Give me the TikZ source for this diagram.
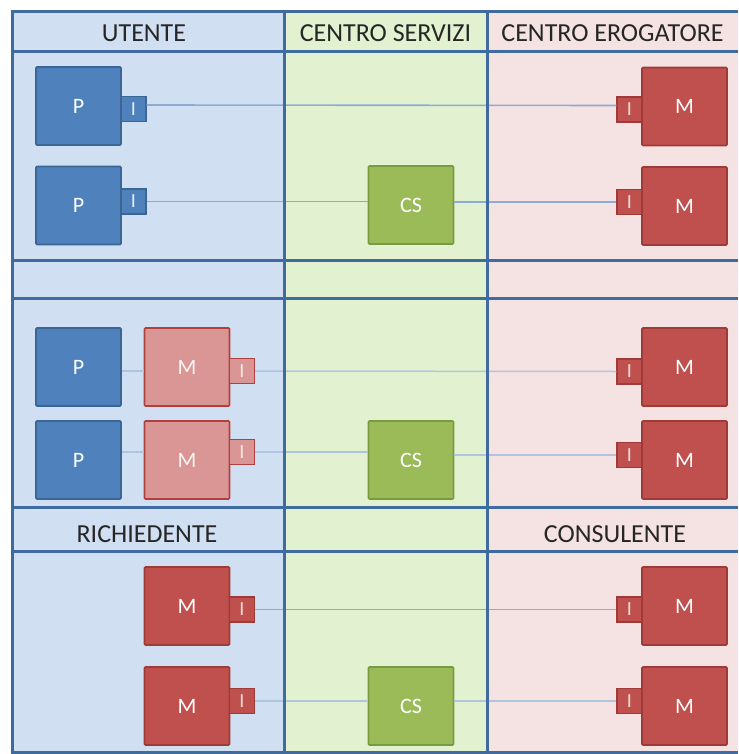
\documentclass[tikz,border=0pt]{standalone}
\usepackage{fontspec}
\setmainfont{Carlito}
\definecolor{bgblue}{HTML}{D0E0F2}
\definecolor{bggreen}{HTML}{E2F1D0}
\definecolor{bgpink}{HTML}{F5E2E2}
\definecolor{gridblue}{HTML}{3F6BA0}
\definecolor{pblue}{HTML}{4F81BD}
\definecolor{pbluedark}{HTML}{3A6595}
\definecolor{mred}{HTML}{C0504D}
\definecolor{mreddark}{HTML}{9E3B38}
\definecolor{mlight}{HTML}{D99694}
\definecolor{mlightdark}{HTML}{B0403D}
\definecolor{csgreen}{HTML}{9BBB59}
\definecolor{csgreendark}{HTML}{7A9A40}
\definecolor{linkblue}{HTML}{8EABD5}
\definecolor{linkfaint}{HTML}{B0C4E0}
\begin{document}
\begin{tikzpicture}[x=1pt,y=-1pt,
  box/.style={draw, line width=1.6pt, rounded corners=1pt, minimum width=85pt, minimum height=78pt, inner sep=0pt, text=white, font=\fontsize{22}{22}\selectfont},
  pbox/.style={box, fill=pblue, draw=pbluedark},
  mbox/.style={box, fill=mred, draw=mreddark},
  lmbox/.style={box, fill=mlight, draw=mlightdark, text=white!90!mlight},
  csbox/.style={box, fill=csgreen, draw=csgreendark},
  tab/.style={draw, line width=1.4pt, minimum width=25pt, minimum height=25pt, inner sep=0pt, font=\fontsize{20}{20}\selectfont},
  ptab/.style={tab, fill=pblue, draw=pbluedark, text=white!85!pblue},
  mtab/.style={tab, fill=mred, draw=mreddark, text=white!80!mred},
  lmtab/.style={tab, fill=mlight, draw=mlightdark, text=white!80!mlight},
  link/.style={draw=linkblue, line width=1.6pt},
  flink/.style={draw=linkfaint, line width=1.5pt},
  gridline/.style={draw=gridblue, line width=3pt},
  hdr/.style={font=\fontsize{26}{26}\selectfont, text=black!85, anchor=base, inner sep=0pt}
]
\useasboundingbox (0,0) rectangle (738,754);
% column backgrounds
\fill[bgblue] (12,12) rectangle (284,754);
\fill[bggreen] (284,12) rectangle (487,754);
\fill[bgpink] (487,12) rectangle (738,754);

% headers
\node[hdr] (hU) at (144,42) {UTENTE};
\node[hdr] (hCS) at (385.5,42) {CENTRO SERVIZI};
\node[hdr] (hCE) at (612.5,42) {CENTRO EROGATORE};
\node[hdr] (hR) at (147,542) {RICHIEDENTE};
\node[hdr] (hC) at (615,542) {CONSULENTE};

% row 1
\node[pbox] (p1) at (78.5,106) {P};
\node[ptab] (p1i) at (133.5,109) {I};
\node[mbox] (m1) at (684.5,106.5) {M};
\node[mtab] (m1i) at (629.5,109.5) {I};
% row 2
\node[pbox] (p2) at (78.5,205.5) {P};
\node[ptab] (p2i) at (133.5,201.5) {I};
\node[csbox] (cs2) at (411,205) {CS};
\node[mbox] (m2) at (684.5,206) {M};
\node[mtab] (m2i) at (629.5,202) {I};
% row 3
\node[pbox] (p3) at (78.5,367) {P};
\node[lmbox] (lm3) at (187,367) {M};
\node[lmtab] (lm3i) at (242,371) {I};
\node[mbox] (m3) at (684.5,367) {M};
\node[mtab] (m3i) at (629.5,371.5) {I};
% row 4
\node[pbox] (p4) at (78.5,460) {P};
\node[lmbox] (lm4) at (187,460) {M};
\node[lmtab] (lm4i) at (242,452) {I};
\node[csbox] (cs4) at (411,460) {CS};
\node[mbox] (m4) at (684.5,460) {M};
\node[mtab] (m4i) at (629.5,455) {I};
% row 6
\node[mbox] (r6) at (187,606) {M};
\node[mtab] (r6i) at (242,609.5) {I};
\node[mbox] (m6) at (684.5,606) {M};
\node[mtab] (m6i) at (629.5,609.5) {I};
% row 7
\node[mbox] (r7) at (187,706) {M};
\node[mtab] (r7i) at (242,701) {I};
\node[csbox] (cs7) at (411,706) {CS};
\node[mbox] (m7) at (684.5,706) {M};
\node[mtab] (m7i) at (629.5,701) {I};

% connectors
\draw[link] ([yshift=4pt]p1i.east) -- ([yshift=4pt]m1i.west);
\draw[link] (p2i.east) -- (p2i.east -| cs2.west);
\draw[link] (cs2.east |- m2i.west) -- (m2i.west);
\draw[flink] (p3.east |- lm3i.center) -- (lm3.west |- lm3i.center);
\draw[flink] (lm3i.east) -- (m3i.west);
\draw[flink] (p4.east |- lm4i.center) -- (lm4.west |- lm4i.center);
\draw[flink] (lm4i.east) -- (lm4i.east -| cs4.west);
\draw[flink] (cs4.east |- m4i.west) -- (m4i.west);
\draw[link] (r6i.east) -- (m6i.west);
\draw[flink] (r7i.east) -- (r7i.east -| cs7.west);
\draw[flink] (cs7.east |- m7i.west) -- (m7i.west);

% grid
\foreach \yy in {12,52,260,298,507,551,752}
  \draw[gridline] (10.5,\yy) -- (738,\yy);
\foreach \xx in {12,284,487}
  \draw[gridline] (\xx,10.5) -- (\xx,754);
\end{tikzpicture}
\end{document}
